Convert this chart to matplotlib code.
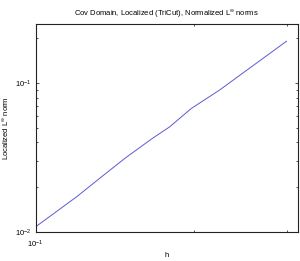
import numpy as np
import matplotlib
matplotlib.use('Agg')
from matplotlib import pyplot as plt
from matplotlib.ticker import LogLocator, NullFormatter

plt.rcParams['font.family'] = ['Liberation Sans', 'DejaVu Sans']
plt.rcParams['mathtext.fontset'] = 'custom'
plt.rcParams['mathtext.rm'] = 'Liberation Sans'
plt.rcParams['mathtext.it'] = 'Liberation Sans'

## data
h = [0.100, 0.1196, 0.1334, 0.1476, 0.1668, 0.1797, 0.1975, 0.2234, 0.2996]
err = [0.01085, 0.01725, 0.0235, 0.0312, 0.0427, 0.0509, 0.0676, 0.0898, 0.1914]

title = r'Cov Domain, Localized (TriCut), Normalized L$^{\infty}$ norms'
xlab = 'h'
ylab = r'Localized L$^{\infty}$ norm'

fig = plt.figure(figsize=(3.0, 2.61), dpi=100)
ax = fig.add_axes([0.119, 0.111, 0.874, 0.797])

ax.loglog(h, err, color='#5a5ad6', lw=0.7)
ax.set_xlim(0.1, 0.315)
ax.set_ylim(0.01, 0.25)

ax.set_title(title, fontsize=5.5, pad=6)
ax.set_xlabel(xlab, fontsize=5.5, labelpad=1.5)
ax.set_ylabel(ylab, fontsize=5.5, labelpad=3)

for s in ax.spines.values():
    s.set_linewidth(0.8)
    s.set_color('#222222')

ax.tick_params(which='both', direction='in', top=True, right=True,
               labelsize=5.5, width=0.6, color='#333333')
ax.tick_params(which='major', length=2.5, pad=3)
ax.tick_params(axis='x', which='major', pad=5)
ax.tick_params(which='minor', length=1.5)
ax.xaxis.set_minor_locator(LogLocator(base=10, subs=np.arange(2, 10)))
ax.yaxis.set_minor_locator(LogLocator(base=10, subs=np.arange(2, 10)))
ax.xaxis.set_minor_formatter(NullFormatter())
ax.yaxis.set_minor_formatter(NullFormatter())

fig.savefig('out.png', dpi=100)
